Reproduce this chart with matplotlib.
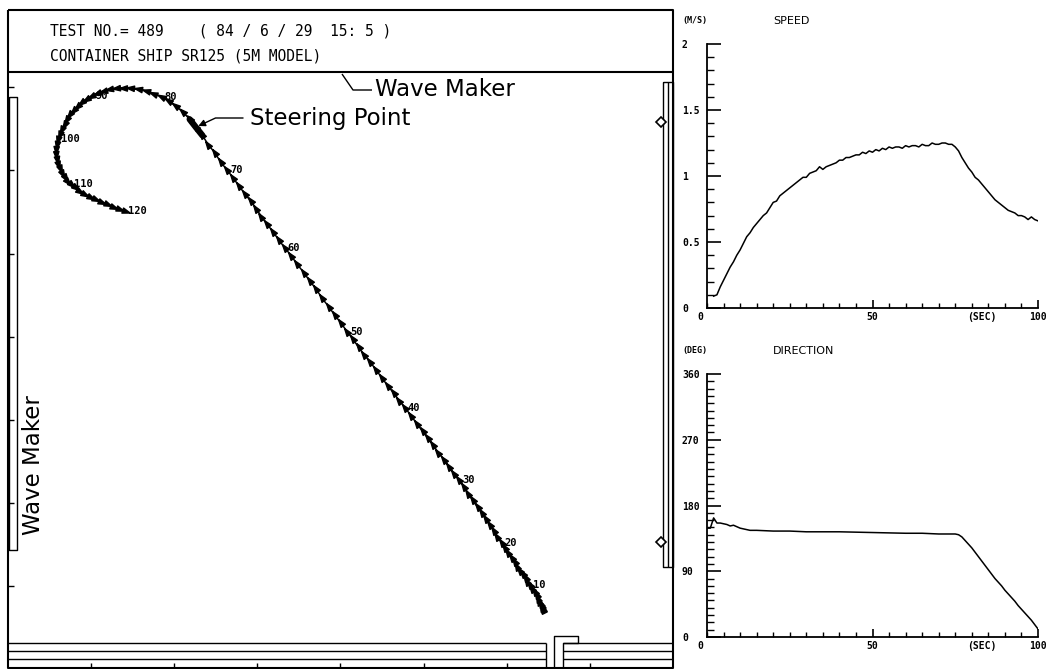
"""
Resultado de prueba de maniobra - buque portacontenedores SR125 (modelo 5 m)
Trayectoria en el tanque + graficas de velocidad y rumbo
"""

import numpy as np
import matplotlib.pyplot as plt
from matplotlib.path import Path
from matplotlib.markers import MarkerStyle
from matplotlib.transforms import Affine2D
from matplotlib.ticker import MultipleLocator

W, H = 1048, 669
PX_M = 8.31  # pixeles por metro en el tanque

# trayectoria (m), un punto por segundo, t = 0 .. 120
track_x = [64.4, 64.35, 64.3, 64.2, 64.1, 63.95, 63.8, 63.6, 63.4, 63.1,
           62.8, 62.5, 62.3, 62.0, 61.6, 61.3, 61.0, 60.6, 60.2, 59.8,
           59.4, 58.9, 58.5, 58.0, 57.5, 57.0, 56.5, 55.9, 55.4, 54.9,
           54.3, 53.7, 53.1, 52.5, 51.8, 51.2, 50.5, 49.9, 49.2, 48.5,
           47.8, 47.1, 46.4, 45.7, 45.0, 44.3, 43.6, 42.9, 42.2, 41.5,
           40.8, 40.1, 39.3, 38.6, 37.8, 37.1, 36.3, 35.6, 34.8, 34.1,
           33.3, 32.6, 31.9, 31.2, 30.5, 29.9, 29.2, 28.5, 27.8, 27.1,
           26.4, 25.6, 24.9, 24.1, 23.4, 22.6, 21.86, 21.08, 20.25, 19.38,
           18.5, 17.59, 16.67, 15.76, 14.86, 13.98, 13.13, 12.32, 11.54, 10.82,
           10.14, 9.51, 8.93, 8.4, 7.93, 7.5, 7.12, 6.8, 6.5, 6.25,
           6.05, 5.9, 5.82, 5.82, 5.9, 6.05, 6.25, 6.5, 6.8, 7.15,
           7.55, 8.05, 8.6, 9.2, 9.85, 10.5, 11.2, 11.9, 12.6, 13.35,
           14.1]
track_y = [7.1, 7.2, 7.35, 7.55, 7.8, 8.1, 8.45, 8.85, 9.25, 9.65,
           10.1, 10.5, 10.9, 11.4, 11.8, 12.3, 12.9, 13.4, 14.0, 14.6,
           15.2, 15.9, 16.6, 17.3, 18.0, 18.8, 19.5, 20.3, 21.1, 21.9,
           22.7, 23.5, 24.3, 25.2, 26.0, 26.9, 27.8, 28.6, 29.5, 30.5,
           31.4, 32.3, 33.2, 34.1, 35.0, 36.0, 36.9, 37.8, 38.7, 39.7,
           40.6, 41.6, 42.6, 43.6, 44.6, 45.7, 46.7, 47.7, 48.7, 49.7,
           50.7, 51.6, 52.6, 53.5, 54.4, 55.4, 56.3, 57.2, 58.1, 59.1,
           60.0, 61.0, 62.1, 63.1, 64.2, 65.2, 66.15, 66.99, 67.71, 68.32,
           68.83, 69.25, 69.56, 69.78, 69.91, 69.95, 69.9, 69.78, 69.59, 69.33,
           69.01, 68.64, 68.22, 67.75, 67.25, 66.75, 66.2, 65.6, 65.0, 64.4,
           63.8, 63.2, 62.6, 62.0, 61.4, 60.8, 60.25, 59.7, 59.2, 58.75,
           58.35, 57.95, 57.55, 57.2, 56.85, 56.55, 56.25, 55.95, 55.65, 55.35,
           55.1]
label_times = [10, 20, 30, 40, 50, 60, 70, 80, 90, 100, 110, 120]
steer_time = 75
probe_x = [78.6, 78.6]
probe_y = [65.8, 15.3]

# velocidad (m/s), t = 2 .. 100
speed_t = list(range(2, 101))
speed_v = [0.09, 0.10, 0.16, 0.21, 0.26, 0.31, 0.35, 0.40, 0.44,
           0.49, 0.54, 0.57, 0.61, 0.64, 0.67, 0.70, 0.72, 0.76, 0.80,
           0.81, 0.85, 0.87, 0.89, 0.91, 0.93, 0.95, 0.97, 0.99, 0.99,
           1.02, 1.03, 1.04, 1.07, 1.05, 1.07, 1.08, 1.09, 1.10, 1.12,
           1.12, 1.14, 1.14, 1.15, 1.16, 1.16, 1.18, 1.17, 1.19, 1.18,
           1.20, 1.19, 1.21, 1.20, 1.22, 1.21, 1.22, 1.22, 1.21, 1.23,
           1.22, 1.23, 1.23, 1.22, 1.24, 1.23, 1.23, 1.25, 1.24, 1.24,
           1.25, 1.25, 1.24, 1.24, 1.22, 1.19, 1.14, 1.10, 1.06, 1.03,
           0.99, 0.97, 0.94, 0.91, 0.88, 0.85, 0.82, 0.80, 0.78, 0.76,
           0.74, 0.73, 0.72, 0.70, 0.70, 0.69, 0.67, 0.69, 0.67, 0.66]

# rumbo (grados)
dir_t = [0, 1, 2, 3, 4, 5, 6, 7, 8, 9, 10, 11, 12, 13, 15, 20, 25, 30, 35,
         40, 45, 50, 55, 60, 65, 70, 75, 76, 77, 78, 79, 80, 81, 82, 83, 84,
         85, 86, 87, 88, 89, 90, 91, 92, 93, 94, 95, 96, 97, 98, 99, 100]
dir_v = [149, 149, 163, 156, 156, 155, 154, 152, 153, 151, 149, 148, 147,
         146, 146, 145, 145, 144, 144, 144, 143.5, 143, 142.5, 142, 142, 141,
         141, 140, 137, 132, 127, 122, 116, 110, 104, 98, 92, 86, 80, 75, 70,
         64, 59, 54, 49, 43, 38, 33, 28, 23, 17, 11]

MONO = 'DejaVu Sans Mono'

fig = plt.figure(figsize=(W / 100, H / 100), dpi=100)

# capa de fondo en pixeles para el marco del tanque
bg = fig.add_axes([0, 0, 1, 1])
bg.set_xlim(0, W)
bg.set_ylim(H, 0)
bg.axis('off')


def linea(xs, ys, lw=1.3):
    bg.plot(xs, ys, color='k', lw=lw, solid_capstyle='butt')


def caja(x0, y0, x1, y1, lw=1.3):
    linea([x0, x1, x1, x0, x0], [y0, y0, y1, y1, y0], lw)


caja(8, 10, 673, 668, lw=1.5)
linea([8, 673], [72, 72], lw=1.5)

# borde inferior del tanque
for yy in (643, 651, 659):
    linea([8, 546], [yy, yy], lw=1.0)
    linea([563, 673], [yy, yy], lw=1.0)
linea([546, 546], [643, 669], lw=1.0)
linea([554, 554, 578, 578, 563, 563], [669, 636, 636, 643, 643, 669], lw=1.0)

# generadores de olas
caja(9, 97, 17, 550, lw=1.0)
caja(663, 82, 673, 567, lw=1.0)
linea([668, 668], [82, 567], lw=1.0)

bg.text(50, 31, 'TEST NO.= 489    ( 84 / 6 / 29  15: 5 )', family=MONO,
        fontsize=10.5, va='center', ha='left')
bg.text(50, 56, 'CONTAINER SHIP SR125 (5M MODEL)', family=MONO,
        fontsize=10.5, va='center', ha='left')

linea([342, 353, 372], [74, 90, 90], lw=1.0)
bg.text(375, 89, 'Wave Maker', fontsize=16.5, va='center', ha='left')
bg.text(34, 465, 'Wave Maker', fontsize=16.5, va='center', ha='center',
        rotation=90)

# tanque (m)
ax = fig.add_axes([8 / W, 0, 665 / W, 597 / H])
ax.set_xlim(0, 665 / PX_M)
ax.set_ylim(0, 597 / PX_M)
ax.patch.set_alpha(0)
for s in ax.spines.values():
    s.set_visible(False)
ax.set_xticks(np.arange(10, 80, 10))
ax.set_yticks(np.arange(10, 80, 10))
ax.tick_params(direction='in', length=4.5, width=1.0, labelbottom=False,
               labelleft=False)

tx = np.array(track_x)
ty = np.array(track_y)
ax.plot(tx, ty, color='k', lw=1.1)
rumbo = np.degrees(np.arctan2(np.gradient(ty), np.gradient(tx)))
punta = Path([(0, 1), (-0.55, -0.6), (0.55, -0.6), (0, 1)])
for xi, yi, hi in zip(tx, ty, rumbo):
    m = MarkerStyle(punta, transform=Affine2D().rotate_deg(hi - 90))
    ax.plot(xi, yi, marker=m, ms=7, color='k', mec='k')
ax.plot(tx[steer_time - 1:steer_time + 2], ty[steer_time - 1:steer_time + 2],
        color='k', lw=4.5, solid_capstyle='round')

for t in label_times:
    ax.annotate(str(t), (tx[t], ty[t]), xytext=(2, 0),
                textcoords='offset points', family=MONO, fontweight='bold',
                fontsize=7.5, va='center', ha='left')

ax.annotate('Steering Point', (tx[steer_time], ty[steer_time]),
            xytext=(250, 118), textcoords=bg.transData, fontsize=16.5,
            va='center', ha='left',
            arrowprops=dict(arrowstyle='-|>', color='k', lw=1.0,
                            shrinkA=3, shrinkB=2, mutation_scale=10,
                            connectionstyle='angle,angleA=0,angleB=25,rad=0'))

ax.plot(probe_x, probe_y, 'D', ms=5, mfc='white', mec='k', mew=1.2)


def panel(y_top, y_bot, t, v, ymax, major, minor, ylabels, unidad, titulo):
    p = fig.add_axes([707 / W, 1 - y_bot / H, 331 / W, (y_bot - y_top) / H])
    p.plot(t, v, color='k', lw=1.1)
    p.set_xlim(0, 100)
    p.set_ylim(0, ymax)
    p.spines['top'].set_visible(False)
    p.spines['right'].set_visible(False)
    p.spines['left'].set_linewidth(1.3)
    p.spines['bottom'].set_linewidth(1.3)
    p.set_yticks(np.arange(0, ymax + major / 2, major))
    p.set_yticklabels(ylabels)
    p.yaxis.set_minor_locator(MultipleLocator(minor))
    p.set_xticks([50, 100])
    p.set_xticklabels(['50', '100'])
    p.xaxis.set_minor_locator(MultipleLocator(5))
    p.tick_params(axis='y', which='major', direction='in', length=10,
                  width=1.2, pad=18)
    p.tick_params(axis='y', which='minor', direction='in', length=5, width=1)
    p.tick_params(axis='x', which='major', direction='in', length=6,
                  width=1.2, pad=3)
    p.tick_params(axis='x', which='minor', direction='in', length=3.5,
                  width=1)
    for lab in p.get_yticklabels() + p.get_xticklabels():
        lab.set_family(MONO)
        lab.set_fontweight('bold')
        lab.set_fontsize(7)
    for lab in p.get_yticklabels():
        lab.set_horizontalalignment('left')
    tr = p.get_xaxis_transform()
    p.annotate('0', (0, 0), xycoords=tr, xytext=(-5, -3),
               textcoords='offset points', ha='center', va='top',
               family=MONO, fontweight='bold', fontsize=7)
    p.annotate('(SEC)', (83, 0), xycoords=tr, xytext=(0, -3),
               textcoords='offset points', ha='center', va='top',
               family=MONO, fontweight='bold', fontsize=7)
    bg.text(682, y_top - 23, unidad, family=MONO, fontweight='bold',
            fontsize=6, va='center', ha='left')
    bg.text(773, y_top - 23, titulo, fontsize=8, va='center', ha='left')
    return p


panel(44, 308, speed_t, speed_v, 2, 0.5, 0.1,
      ['0', '0.5', '1', '1.5', '2'], '(M/S)', 'SPEED')
panel(374, 637, dir_t, dir_v, 360, 90, 10,
      ['0', '90', '180', '270', '360'], '(DEG)', 'DIRECTION')

plt.savefig('out.png', dpi=100)
plt.close()
